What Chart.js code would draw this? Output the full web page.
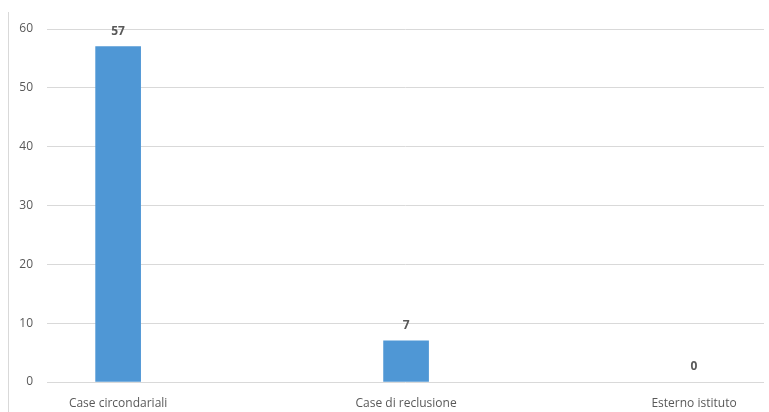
<!DOCTYPE html>
<html>
<head>
<meta charset="utf-8">
<script src="https://cdn.jsdelivr.net/npm/chart.js@4"></script>
<style>
  html, body { margin: 0; padding: 0; background: #fff; }
  #wrap { position: relative; width: 769px; height: 412px; }
  #frame { position: absolute; left: 8px; top: 12px; bottom: 0; border-left: 1px solid #d9d9d9; }
</style>
</head>
<body>
<div id="wrap">
  <div id="frame"></div>
  <canvas id="chart" width="769" height="412"></canvas>
</div>
<script>
// Categories and values
const categories = ['Case circondariali', 'Case di reclusione', 'Esterno istituto'];
const positions = [0, 1, 2];
const values = [57, 7, 0];
const yTicks = [0, 10, 20, 30, 40, 50, 60];

// Draw value labels above each bar
const valueLabels = {
    id: 'valueLabels',
    afterDatasetsDraw(chart) {
        const ctx = chart.ctx;
        const meta = chart.getDatasetMeta(0);
        ctx.save();
        ctx.font = 'bold 12px "Open Sans"';
        ctx.fillStyle = '#595959';
        ctx.textAlign = 'center';
        ctx.textBaseline = 'middle';
        meta.data.forEach((bar, i) => {
            ctx.fillText(String(values[i]), bar.x, bar.y - 15);
        });
        ctx.restore();
    }
};

const ctx = document.getElementById('chart').getContext('2d');
new Chart(ctx, {
    type: 'bar',
    data: {
        datasets: [{
            data: positions.map((p, i) => ({ x: p, y: values[i] })),
            // zero-height bars are left invisible, as in the original
            backgroundColor: c => (c.raw && c.raw.y === 0) ? 'rgba(0,0,0,0)' : '#4f97d5',
            barThickness: 45
        }]
    },
    options: {
        responsive: false,
        animation: false,
        layout: { padding: { left: 0, right: 5, top: 29, bottom: 0 } },
        plugins: { legend: { display: false }, tooltip: { enabled: false } },
        scales: {
            x: {
                type: 'linear',
                offset: false,
                min: -0.247,
                max: 2.243,
                grid: { display: false },
                border: { display: false },
                afterBuildTicks: scale => { scale.ticks = positions.map(v => ({ value: v })); },
                afterFit: scale => { scale.height = 30; },
                ticks: {
                    callback: (v) => categories[positions.indexOf(v)],
                    color: '#595959',
                    font: { family: 'Open Sans', size: 12 },
                    padding: 6,
                    maxRotation: 0,
                    autoSkip: false
                }
            },
            y: {
                min: 0,
                max: 60,
                afterBuildTicks: scale => { scale.ticks = yTicks.map(v => ({ value: v })); },
                afterFit: scale => { scale.width = 47; },
                grid: { color: '#d9d9d9', drawTicks: false },
                border: { display: false },
                ticks: {
                    color: '#595959',
                    font: { family: 'Open Sans', size: 12 },
                    padding: 14
                }
            }
        }
    },
    plugins: [valueLabels]
});
</script>
</body>
</html>
